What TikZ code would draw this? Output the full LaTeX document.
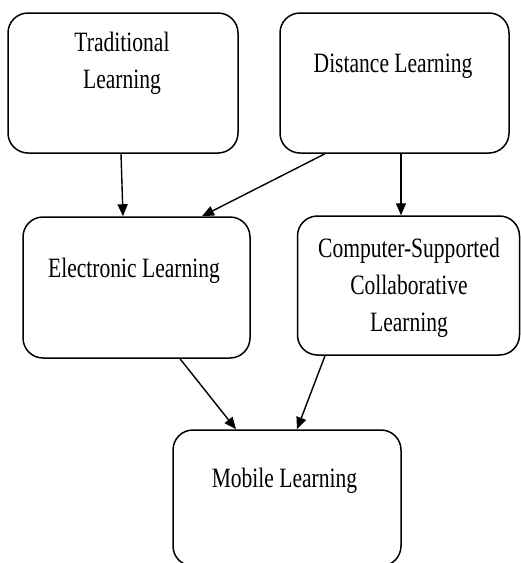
\documentclass[tikz,border=0pt]{standalone}
\usepackage{fontspec}
\setmainfont[FakeStretch=0.77]{Liberation Serif}
\usetikzlibrary{arrows.meta,calc}
\begin{document}
\begin{tikzpicture}[x=1pt,y=-1pt,
  box/.style={draw=black,line width=1.5pt,rounded corners=20pt,inner sep=0pt},
  lbl/.style={font=\fontsize{28}{37}\selectfont,align=center,inner sep=0pt,anchor=base},
  arr/.style={line width=1.4pt,-{Triangle[length=12pt,width=10pt]}}]
\useasboundingbox (0,0) rectangle (521,563);
\clip (0,0) rectangle (521,563);
\node[box,minimum width=230pt,minimum height=140pt] (T) at (123,83) {};
\node[box,minimum width=229pt,minimum height=140pt] (D) at (394.5,83) {};
\node[box,minimum width=227pt,minimum height=141pt] (E) at (136.5,287.5) {};
\node[box,minimum width=222pt,minimum height=139pt] (C) at (408.5,285.5) {};
\node[box,minimum width=228pt,minimum height=136pt] (M) at (287,498) {};
\node[lbl] (Tl) at (122,88) {Traditional\\Learning};
\node[lbl] (Dl) at (393,72) {Distance Learning};
\node[lbl] (El) at (134,277) {Electronic Learning};
\node[lbl] (Cl) at (409,331) {Computer-Supported\\Collaborative\\Learning};
\node[lbl] (Ml) at (284.5,487) {Mobile Learning};
\draw[arr] ([xshift=-2pt]T.south) -- ([xshift=-13.5pt]E.north);
\draw[arr] ([xshift=-69.5pt]D.south) -- ([xshift=65.5pt]E.north);
\draw[arr] ([xshift=6.5pt]D.south) -- ([xshift=-7.5pt]C.north);
\draw[arr] ([xshift=43.5pt]E.south) -- ([xshift=-51pt]M.north);
\draw[arr] ([xshift=-83.5pt]C.south) -- ([xshift=10pt]M.north);
\end{tikzpicture}
\end{document}
